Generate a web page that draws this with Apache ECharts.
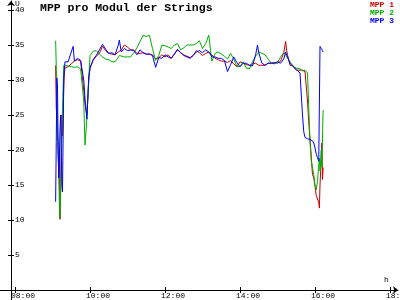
<!DOCTYPE html>
<html><head><meta charset="utf-8">
<script src="https://cdn.jsdelivr.net/npm/echarts@6/dist/echarts.min.js"></script>
<style>html,body{margin:0;padding:0;background:#fff}#c{width:400px;height:300px}</style>
</head><body><div id="c"></div>
<script>
const times = ['09:05','09:06','09:07','09:08','09:09','09:10','09:11','09:12','09:13','09:14','09:15','09:16','09:17','09:18','09:19','09:20',
'09:25','09:30','09:33','09:35','09:40','09:45','09:50','09:52','09:55','09:58','10:00','10:05','10:10','10:15','10:20','10:25','10:30','10:35','10:40','10:45','10:47','10:50','10:55',
'11:00','11:05','11:10','11:15','11:20','11:25','11:30','11:35','11:40','11:45','11:50','11:55','12:00','12:05','12:10','12:15','12:20','12:25','12:30','12:35','12:40','12:45','12:50','12:55',
'13:00','13:05','13:10','13:15','13:20','13:25','13:30','13:35','13:40','13:45','13:50','13:55','14:00','14:05','14:10','14:15','14:20','14:25','14:28','14:30','14:35','14:40','14:45','14:50','14:55',
'15:00','15:05','15:10','15:13','15:15','15:20','15:25','15:30','15:36','15:38','15:40','15:42','15:44','15:46','15:48','15:50','15:52','15:54','15:56','15:58',
'16:00','16:02','16:04','16:06','16:07','16:08','16:10','16:11','16:12','16:13'];
const mpp1 = [32.1,26.0,24.7,22.0,20.0,17.0,19.7,10.1,14.0,20.7,25.0,22.0,25.0,29.0,31.0,31.7,
31.9,32.3,32.5,32.7,32.9,32.7,28.5,26.5,25.0,30.0,31.7,32.8,33.4,33.8,34.8,34.2,33.8,33.7,33.6,34.0,34.1,34.3,35.0,
34.7,34.3,34.3,33.8,33.8,33.9,33.7,33.7,33.6,33.0,33.2,33.6,33.3,33.6,33.1,33.7,34.3,33.9,33.6,33.4,33.2,33.5,34.2,33.9,
33.5,33.8,34.0,33.6,33.1,32.9,32.7,32.7,32.5,32.8,32.3,31.9,32.6,32.4,32.2,32.1,32.3,32.4,32.2,32.1,32.1,32.1,32.4,32.4,32.5,
32.4,32.7,33.9,35.5,34.0,32.1,32.0,31.4,31.4,31.5,31.4,31.4,31.2,31.0,27.0,24.0,21.5,19.0,16.5,16.0,
14.8,13.5,13.0,12.5,11.7,15.0,18.8,21.0,15.8,17.5];
const mpp2 = [35.6,32.1,27.0,24.0,20.0,16.0,12.0,10.3,14.0,18.0,22.0,26.0,29.0,32.1,32.0,32.1,
32.0,31.9,31.7,31.8,31.9,31.6,27.0,20.7,24.5,30.0,33.5,34.1,34.2,33.7,33.3,33.0,32.9,32.6,32.6,33.2,33.5,33.4,33.3,
33.3,33.3,33.9,34.6,35.5,36.4,36.2,36.4,34.5,32.8,33.5,35.0,34.9,34.7,34.5,35.0,35.2,34.3,34.6,35.0,35.0,35.0,35.2,35.6,
34.5,35.2,36.4,32.7,33.8,34.0,33.7,33.4,33.0,33.8,33.0,31.9,31.9,32.6,31.7,31.6,32.6,33.4,33.7,34.0,33.8,33.6,33.0,32.4,32.3,
32.5,33.3,33.9,33.6,33.3,32.6,32.0,31.7,31.6,31.4,31.3,31.2,31.4,31.4,31.0,26.0,21.2,18.5,17.5,16.5,
15.0,14.3,15.5,17.9,18.8,17.0,20.0,17.6,22.0,25.7];
const mpp3 = [12.6,21.2,30.3,29.0,20.0,16.0,19.0,23.0,25.0,20.0,15.0,14.0,22.0,30.3,31.5,32.6,
32.6,34.0,34.8,32.7,33.1,32.8,30.0,27.4,24.4,30.5,31.7,32.9,33.5,34.3,35.1,34.4,33.8,33.9,33.6,34.9,35.7,34.0,34.5,
34.2,34.3,34.2,33.6,34.3,33.9,33.7,33.7,33.5,31.8,33.2,33.1,33.6,33.3,33.1,33.7,34.4,33.9,33.5,33.3,33.1,33.5,34.0,34.2,
33.9,34.3,34.0,33.3,33.3,33.1,33.1,32.8,31.2,32.2,33.3,32.5,31.9,32.4,32.4,32.1,32.0,33.6,35.0,33.9,32.4,32.1,32.4,32.4,32.4,
32.6,32.4,33.0,34.0,33.5,32.4,31.9,31.5,31.0,28.0,25.0,22.6,21.8,21.7,21.6,21.5,21.5,21.4,21.3,21.0,
20.3,19.4,18.9,18.4,18.2,34.8,34.5,34.3,34.2,34.0];
const seriesNames = ['MPP 1','MPP 2','MPP 3'];
const seriesColors = ['#c80000','#00b000','#0000ff'];
const xTickHours = [8,10,12,14,16,18];
const yTickValues = [5,10,15,20,25,30,35,40];

function toHours(s){const p=s.split(':').map(Number);return p[0]+p[1]/60;}
function pad(n){return (n<10?'0':'')+n;}
const FONT = 'Liberation Mono';
const X_MIN = 7.6, X_MAX = 18.2133;
const Y_MIN = 0, Y_MAX = 289/7;
const values = [mpp1, mpp2, mpp3];

const chart = echarts.init(document.getElementById('c'), null, {renderer:'canvas'});
chart.setOption({
  animation:false,
  backgroundColor:'#fff',
  title:{text:'MPP pro Modul der Strings', left:40, top:2, padding:0,
    textStyle:{fontFamily:FONT,fontWeight:'bold',fontSize:11.5,color:'#000'}},
  legend:{orient:'vertical', right:6, top:1, padding:0, itemGap:0, itemWidth:0, itemHeight:7, selectedMode:false,
    data: seriesNames.map((n,i)=>({name:n, icon:'rect', itemStyle:{opacity:0}, textStyle:{color:seriesColors[i]}})),
    textStyle:{fontFamily:FONT, fontSize:8, fontWeight:'bold', lineHeight:7.5}},
  grid:{left:0,right:2,top:1,bottom:10, containLabel:false, outerBoundsMode:'none'},
  xAxis:[{type:'value', min:X_MIN, max:X_MAX, position:'bottom',
     axisLine:{show:true, onZero:false, lineStyle:{color:'#000',width:1}, symbol:['none','arrow'], symbolSize:[6,5]},
     axisTick:{show:true, customValues:xTickHours, length:3, lineStyle:{color:'#000'}},
     axisLabel:{customValues:xTickHours, margin:2,
       formatter: v=>'{t|'+pad(Math.round(v))+':00}',
       rich:{t:{padding:[0,0,0,16], fontFamily:FONT, fontSize:8, color:'#000'}}},
     splitLine:{show:false}},
    {type:'value', min:X_MIN, max:X_MAX, position:'bottom',
     axisLine:{show:false, onZero:false}, axisTick:{show:true, inside:true, customValues:xTickHours, length:3, lineStyle:{color:'#000'}},
     axisLabel:{show:false}, splitLine:{show:false}}],
  yAxis:[{type:'value', min:Y_MIN, max:Y_MAX, position:'left', offset:-11,
     axisLine:{show:true, onZero:false, lineStyle:{color:'#000',width:1}, symbol:['none','arrow'], symbolSize:[6,5]},
     axisTick:{show:true, customValues:yTickValues, length:3, lineStyle:{color:'#000'}},
     axisLabel:{customValues:yTickValues, inside:true, margin:4, fontFamily:FONT, fontSize:8, color:'#000'},
     splitLine:{show:false}},
    {type:'value', min:Y_MIN, max:Y_MAX, position:'left', offset:-11,
     axisLine:{show:false, onZero:false},
     axisTick:{show:true, inside:true, customValues:yTickValues, length:3, lineStyle:{color:'#000'}},
     axisLabel:{show:false}, splitLine:{show:false}}],
  graphic:[
    {type:'line', shape:{x1:11.5, y1:290, x2:11.5, y2:300}, style:{stroke:'#000', lineWidth:1}},
    {type:'text', left:15, top:0, style:{text:'U', font:'8px "Liberation Mono"', fill:'#000'}},
    {type:'text', left:384, top:276, style:{text:'h', font:'8px "Liberation Mono"', fill:'#000'}}
  ],
  series: seriesNames.map((n,i)=>({
    name:n, type:'line', xAxisIndex:0, yAxisIndex:0,
    data: times.map((t,k)=>[toHours(t), values[i][k]]),
    showSymbol:false, symbol:'none', silent:true,
    lineStyle:{width:1, color:seriesColors[i]}, itemStyle:{color:seriesColors[i]}
  }))
});
</script>
</body></html>
